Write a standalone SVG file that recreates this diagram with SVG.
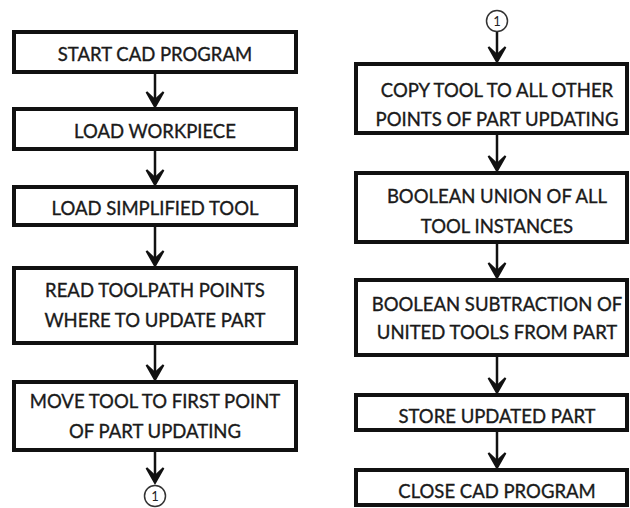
<svg xmlns="http://www.w3.org/2000/svg" width="630" height="508" viewBox="0 0 630 508">
<style>
.box{fill:#fff;stroke:#111;stroke-width:4}
.t{font-family:Lato,"Liberation Sans",sans-serif;font-size:18.5px;fill:#1a1a1a;stroke:#1a1a1a;stroke-width:0.35;text-anchor:middle}
.c{fill:#fff;stroke:#333;stroke-width:1.5}
.ct{font-family:Lato,"Liberation Sans",sans-serif;font-size:13px;fill:#222;text-anchor:middle}
.ln{stroke:#111;stroke-width:2.5;fill:none}
.hd{fill:#111;stroke:#111;stroke-width:2;stroke-linejoin:miter}
</style>
<defs>
<g id="ah"><path class="hd" d="M-8.5,-16 L0,-1 L8.5,-16 L0,-8 Z"/></g>
</defs>
<rect width="630" height="508" fill="#fff"/>
<g id="connectors">
<line class="ln" x1="155" y1="72" x2="155" y2="104"/><use href="#ah" x="155" y="108"/>
<line class="ln" x1="155" y1="149" x2="155" y2="182"/><use href="#ah" x="155" y="186"/>
<line class="ln" x1="155" y1="225" x2="155" y2="263"/><use href="#ah" x="155" y="267"/>
<line class="ln" x1="155" y1="343" x2="155" y2="377"/><use href="#ah" x="155" y="381"/>
<line class="ln" x1="155" y1="450" x2="155" y2="480"/><use href="#ah" x="155" y="484"/>
<line class="ln" x1="497" y1="32" x2="497" y2="59"/><use href="#ah" x="497" y="63"/>
<line class="ln" x1="497" y1="133" x2="497" y2="168"/><use href="#ah" x="497" y="172"/>
<line class="ln" x1="497" y1="242" x2="497" y2="275"/><use href="#ah" x="497" y="279"/>
<line class="ln" x1="497" y1="355" x2="497" y2="390"/><use href="#ah" x="497" y="394"/>
<line class="ln" x1="497" y1="430" x2="497" y2="465"/><use href="#ah" x="497" y="469"/>
</g>
<g id="n1"><rect class="box" x="14" y="32" width="282" height="40"/><text class="t" x="155" y="61">START CAD PROGRAM</text></g>
<g id="n2"><rect class="box" x="14" y="109" width="282" height="40"/><text class="t" x="155" y="138">LOAD WORKPIECE</text></g>
<g id="n3"><rect class="box" x="14" y="187" width="282" height="38"/><text class="t" x="155" y="215">LOAD SIMPLIFIED TOOL</text></g>
<g id="n4"><rect class="box" x="14" y="268" width="282" height="75"/><text class="t" x="155" y="297">READ TOOLPATH POINTS</text><text class="t" x="155" y="327">WHERE TO UPDATE PART</text></g>
<g id="n5"><rect class="box" x="14" y="382" width="282" height="68"/><text class="t" x="155" y="408">MOVE TOOL TO FIRST POINT</text><text class="t" x="155" y="438">OF PART UPDATING</text></g>
<g id="c1"><circle class="c" cx="155" cy="496" r="10.5"/><text class="ct" x="155" y="501">1</text></g>
<g id="c2"><circle class="c" cx="497" cy="21" r="10.5"/><text class="ct" x="497" y="26">1</text></g>
<g id="n6"><rect class="box" x="356" y="64" width="271" height="69"/><text class="t" x="497" y="97">COPY TOOL TO ALL OTHER</text><text class="t" x="497" y="126">POINTS OF PART UPDATING</text></g>
<g id="n7"><rect class="box" x="356" y="173" width="271" height="69"/><text class="t" x="497" y="203">BOOLEAN UNION OF ALL</text><text class="t" x="497" y="233">TOOL INSTANCES</text></g>
<g id="n8"><rect class="box" x="356" y="280" width="271" height="75"/><text class="t" x="497" y="311">BOOLEAN SUBTRACTION OF</text><text class="t" x="497" y="339">UNITED TOOLS FROM PART</text></g>
<g id="n9"><rect class="box" x="356" y="395" width="271" height="35"/><text class="t" x="497" y="423">STORE UPDATED PART</text></g>
<g id="n10"><rect class="box" x="356" y="470" width="271" height="35"/><text class="t" x="497" y="498">CLOSE CAD PROGRAM</text></g>
</svg>
